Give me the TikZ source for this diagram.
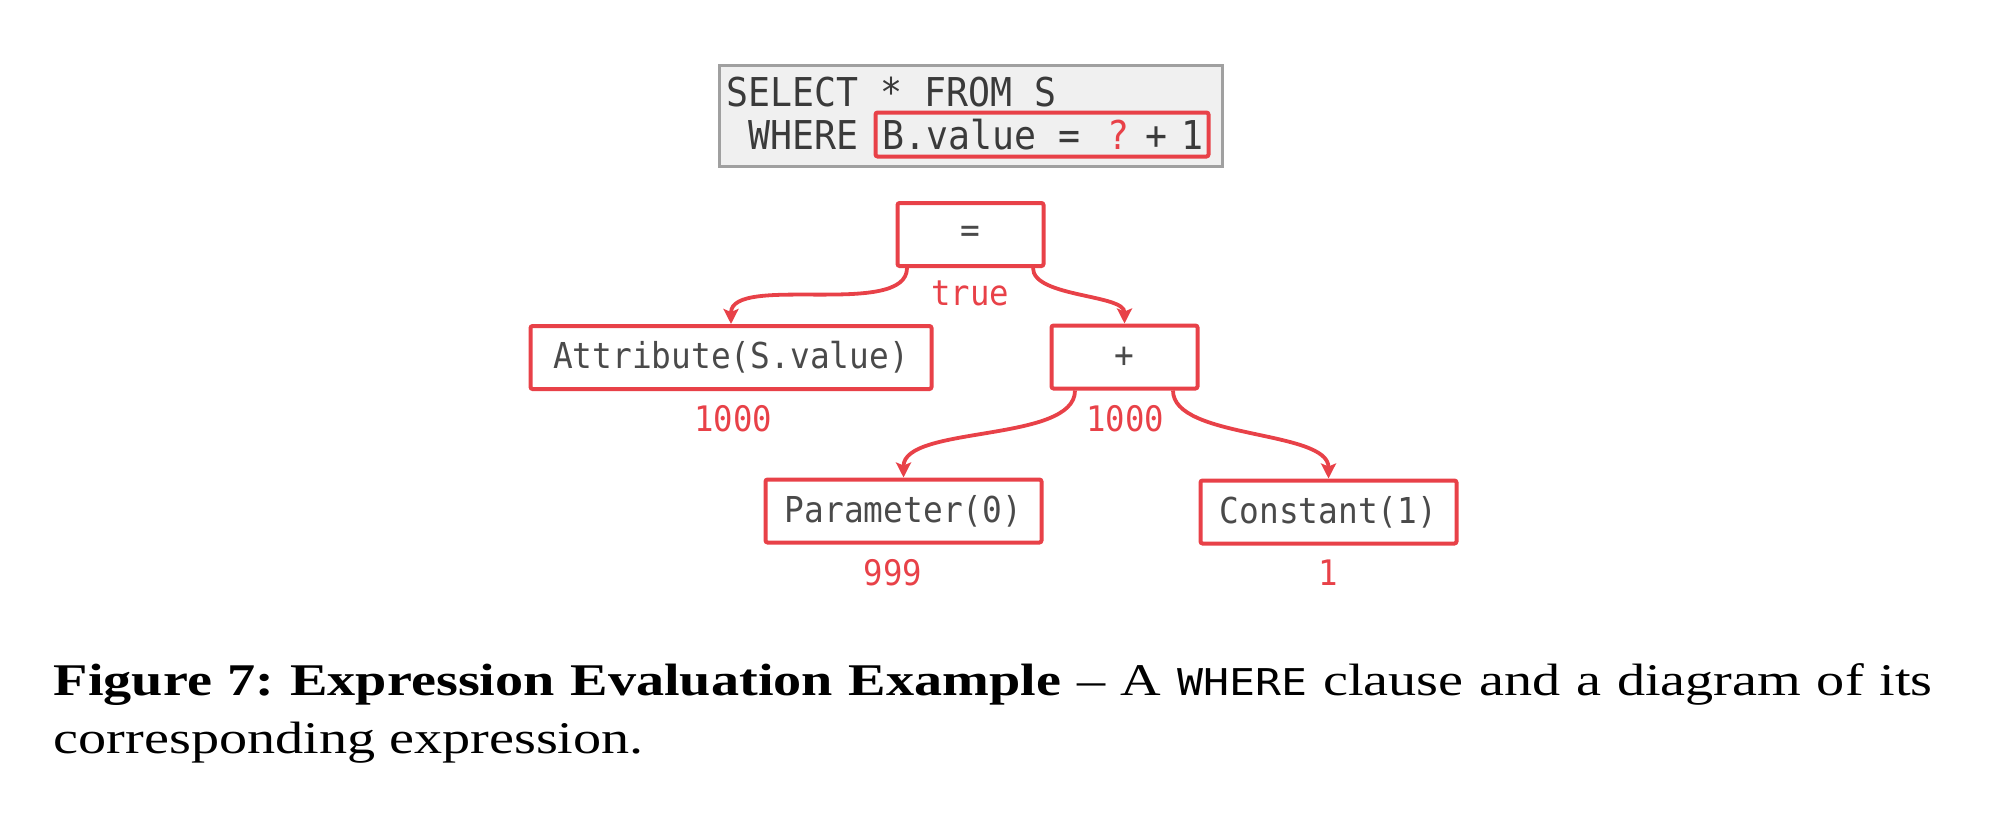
\documentclass[tikz,border=0pt]{standalone}
\usepackage{fontspec}
\usepackage{tikz}
\usetikzlibrary{arrows.meta}
\newfontfamily\sqlfont[FakeStretch=0.92]{DejaVu Sans Mono}
\newfontfamily\capcode[FakeStretch=1.17]{DejaVu Sans Mono}
\newfontfamily\capfont[FakeStretch=1.24]{Liberation Serif}
\definecolor{exred}{RGB}{232,65,72}
\definecolor{exgray}{RGB}{74,74,74}
\definecolor{sqlgray}{RGB}{58,58,58}
\definecolor{boxfill}{RGB}{240,240,240}
\definecolor{boxline}{RGB}{160,160,160}
\frenchspacing

\begin{document}
\begin{tikzpicture}[
  sqlbox/.style = {draw=boxline, fill=boxfill, line width=0.3mm, inner sep=0},
  sqltext/.style = {text=sqlgray, font=\sqlfont\fontsize{11.3}{13}\selectfont, inner sep=0, anchor=base west},
  hlbox/.style = {draw=exred, line width=0.4mm, rounded corners=0.6pt, inner sep=0},
  op/.style = {draw=exred, line width=0.4mm, rounded corners=0.6pt, inner sep=0, minimum height=0.63cm,
               text=exgray, font=\sqlfont\fontsize{10.15}{12}\selectfont},
  val/.style = {text=exred, font=\sqlfont\fontsize{10}{12}\selectfont, inner sep=0, anchor=base},
  edge/.style = {draw=exred, line width=0.38mm, -{Stealth[length=1.5mm,width=1.5mm,inset=0.3mm]}},
  captext/.style = {inner sep=0, anchor=base west, font=\capfont\fontsize{12.9}{15}\selectfont}
]
\useasboundingbox (0,0) rectangle (20,-8.14);

\node[sqlbox, minimum width=5.03cm, minimum height=1.01cm] (sql) at (9.705,-1.155) {};
\node[sqltext] (select) at (7.26,-1.06) {SELECT * FROM S};
\node[sqltext] (where) at (7.48,-1.49) {WHERE};
\node[sqltext] (expr) at (8.82,-1.49) {B.value =\hspace{1.5pt} {\color{exred}?}\hspace{4.5pt}+\hspace{4pt}1};
\node[hlbox, minimum width=3.33cm, minimum height=0.44cm] (hl) at (10.42,-1.345) {};

\node[op, minimum width=1.46cm] (eq) at (9.705,-2.345) {=};
\node[op, minimum width=4.01cm] (attr) at (7.31,-3.575) {Attribute(S.value)};
\node[op, minimum width=1.46cm] (plus) at (11.245,-3.57) {+};
\node[op, minimum width=2.76cm] (param) at (9.035,-5.11) {Parameter(0)};
\node[op, minimum width=2.56cm] (const) at (13.285,-5.12) {Constant(1)};

\node[val] (eqval) at (9.70,-3.05) {true};
\node[val] (attrval) at (7.33,-4.31) {1000};
\node[val] (plusval) at (11.25,-4.31) {1000};
\node[val] (paramval) at (8.93,-5.85) {999};
\node[val] (constval) at (13.28,-5.85) {1};

\draw[edge] ([xshift=-0.635cm]eq.south) to[out=-90,in=90,looseness=0.7] (attr.north);
\draw[edge] ([xshift=0.625cm]eq.south) to[out=-90,in=90,looseness=0.7] (plus.north);
\draw[edge] ([xshift=-0.495cm]plus.south) to[out=-90,in=90,looseness=0.7] (param.north);
\draw[edge] ([xshift=0.485cm]plus.south) to[out=-90,in=90,looseness=0.7] (const.north);

\node[captext] (cap1) at (0.53,-6.95) {\makebox[18.79cm][s]{\textbf{Figure 7: Expression Evaluation Example} – A {\capcode\fontsize{10.5}{12}\selectfont WHERE} clause and a diagram of its}};
\node[captext] (cap2) at (0.53,-7.53) {corresponding expression.};
\end{tikzpicture}
\end{document}
